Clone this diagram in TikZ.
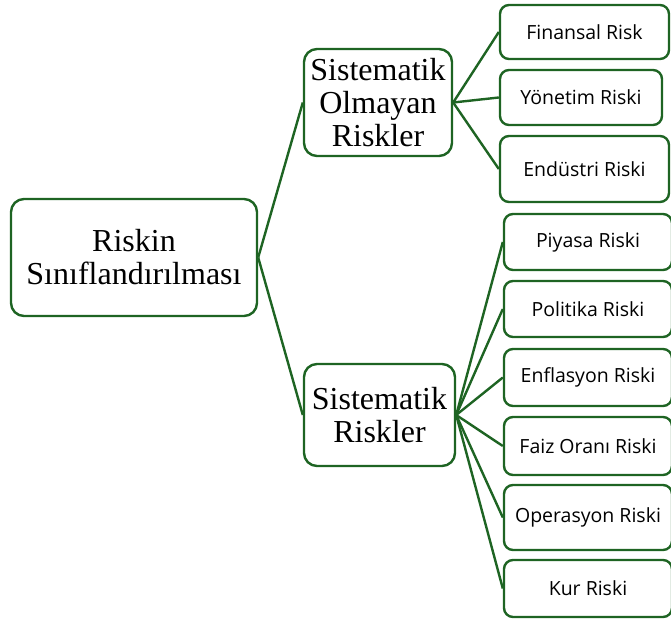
\documentclass[tikz,border=0pt]{standalone}
\usepackage{fontspec}
\setmainfont{Liberation Serif}
\newfontfamily\labelfont{Open Sans}
\definecolor{boxgreen}{RGB}{30,100,35}
\begin{document}
\begin{tikzpicture}[x=1pt,y=-1pt,
  box/.style={draw=boxgreen,line width=2.4pt,fill=white,rounded corners=9pt,inner sep=0pt,align=center},
  bigbox/.style={box,rounded corners=13pt,font=\fontsize{32}{33}\selectfont},
  leaf/.style={box,font=\labelfont\fontsize{19.5}{22}\selectfont},
  conn/.style={draw=boxgreen,line width=2.4pt}]
\useasboundingbox (0,0) rectangle (671,621);
\node[bigbox,minimum width=246pt,minimum height=117pt] (root) at (134,257.5) {Riskin\\Sınıflandırılması};
\node[bigbox,minimum width=148pt,minimum height=107pt] (so) at (378,102.5) {Sistematik\\Olmayan\\Riskler};
\node[bigbox,minimum width=151pt,minimum height=102pt] (sr) at (379.5,415) {Sistematik\\Riskler};
\node[leaf,minimum width=169pt,minimum height=54pt] (fin) at (584.5,32) {Finansal Risk};
\node[leaf,minimum width=162pt,minimum height=55pt] (yon) at (581,97.5) {Yönetim Riski};
\node[leaf,minimum width=169pt,minimum height=66pt] (end) at (584.5,169) {Endüstri Riski};
\node[leaf,minimum width=168pt,minimum height=56pt] (piy) at (588,242) {Piyasa Riski};
\node[leaf,minimum width=168pt,minimum height=56pt] (pol) at (588,309) {Politika Riski};
\node[leaf,minimum width=168pt,minimum height=57pt] (enf) at (588,377.5) {Enflasyon Riski};
\node[leaf,minimum width=168pt,minimum height=58pt] (fai) at (588,446) {Faiz Oranı Riski};
\node[leaf,minimum width=168pt,minimum height=65pt] (ope) at (588,517.5) {Operasyon Riski};
\node[leaf,minimum width=168pt,minimum height=57pt] (kur) at (588,588.5) {Kur Riski};
\draw[conn] (root.east) -- (so.west);
\draw[conn] (root.east) -- (sr.west);
\foreach \t in {fin,yon,end} \draw[conn] (so.east) -- (\t.west);
\foreach \t in {piy,pol,enf,fai,ope,kur} \draw[conn] (sr.east) -- (\t.west);
\end{tikzpicture}
\end{document}
